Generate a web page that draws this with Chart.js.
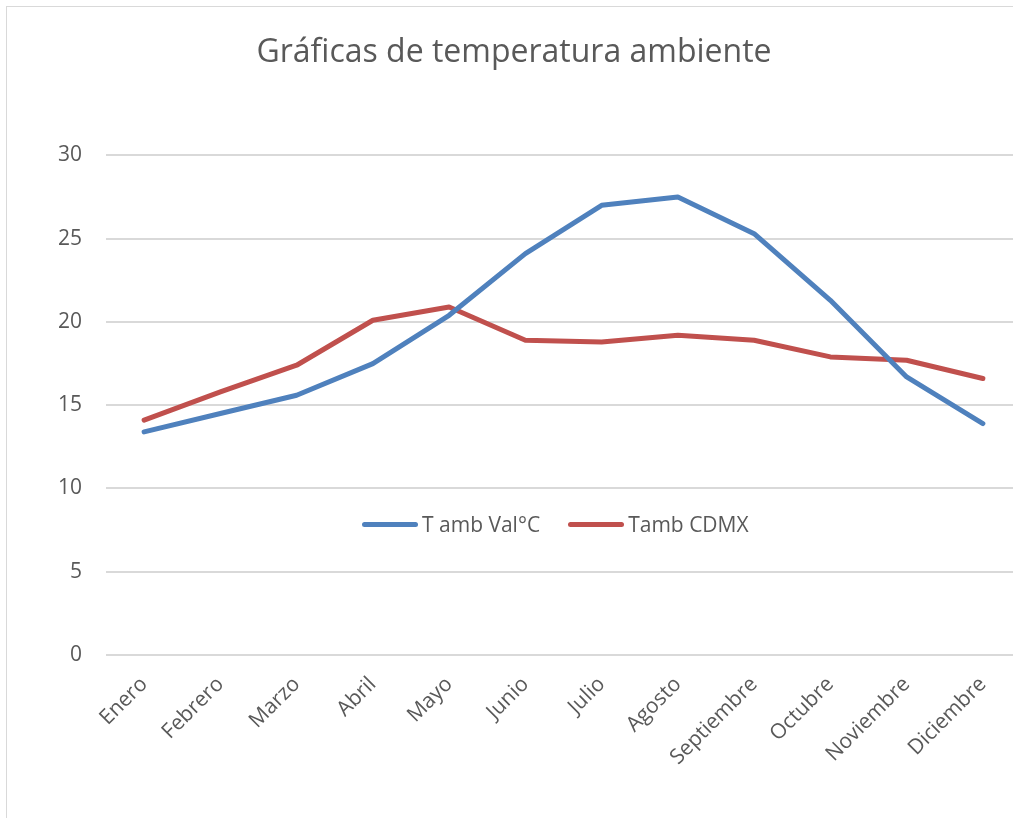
<!DOCTYPE html>
<html>
<head>
<meta charset="utf-8">
<script src="https://cdn.jsdelivr.net/npm/chart.js@4.4.0/dist/chart.umd.min.js"></script>
<style>
  html, body { margin: 0; padding: 0; background: #fff; overflow: hidden; width: 1013px; height: 818px; }
  #wrap {
    position: absolute; left: 6px; top: 6px; width: 1016px; height: 830px;
    border: 1.5px solid #D9D9D9; box-sizing: border-box; background: #fff;
  }
  #chart-box { position: absolute; left: 0; top: 0; width: 1015px; height: 812px; }
  #legend {
    position: absolute; left: 355px; top: 503px; display: flex; align-items: center;
    font-family: "Open Sans", sans-serif; font-size: 21px; color: #595959;
  }
  .leg-item { display: flex; align-items: center; margin-right: 28px; }
  .leg-line { flex: 0 0 56px; width: 56px; height: 5px; border-radius: 3px; margin-right: 4px; }
</style>
</head>
<body>
<div id="wrap">
  <div id="chart-box"><canvas id="myChart"></canvas></div>
  <div id="legend"></div>
</div>
<script>
// months on the x axis
const months = ["Enero", "Febrero", "Marzo", "Abril", "Mayo", "Junio",
                "Julio", "Agosto", "Septiembre", "Octubre", "Noviembre", "Diciembre"];

// series values
const tambValencia = [13.4, 14.5, 15.6, 17.5, 20.4, 24.1, 27.0, 27.5, 25.3, 21.3, 16.7, 13.9];
const tambCdmx = [14.1, 15.8, 17.4, 20.1, 20.9, 18.9, 18.8, 19.2, 18.9, 17.9, 17.7, 16.6];

// y axis ticks
const yMin = 0;
const yMax = 30;
const yStep = 5;

const textGray = '#595959';
const gridGray = '#D9D9D9';

const ctx = document.getElementById('myChart').getContext('2d');

const chart = new Chart(ctx, {
    type: 'line',
    data: {
        labels: months,
        datasets: [
            {
                label: 'T amb Val°C',
                data: tambValencia,
                borderColor: '#4F81BD',
                backgroundColor: '#4F81BD',
                borderWidth: 5,
                pointRadius: 0,
                tension: 0,
                borderCapStyle: 'round',
                borderJoinStyle: 'round'
            },
            {
                label: 'Tamb CDMX',
                data: tambCdmx,
                borderColor: '#C0504D',
                backgroundColor: '#C0504D',
                borderWidth: 5,
                pointRadius: 0,
                tension: 0,
                borderCapStyle: 'round',
                borderJoinStyle: 'round'
            }
        ]
    },
    options: {
        responsive: true,
        maintainAspectRatio: false,
        animation: false,
        layout: { padding: { left: 0, right: 1, top: 0, bottom: 0 } },
        plugins: {
            legend: { display: false }, // legend is drawn as html inside the plot
            tooltip: { enabled: false },
            title: {
                display: true,
                text: 'Gráficas de temperatura ambiente',
                color: textGray,
                font: { family: '"Open Sans", sans-serif', size: 32, weight: 'normal' },
                padding: { top: 27, bottom: 83 }
            }
        },
        scales: {
            x: {
                offset: true,
                grid: { display: false, drawTicks: false },
                border: { display: false },
                ticks: {
                    color: textGray,
                    font: { family: '"Open Sans", sans-serif', size: 21 },
                    maxRotation: 45,
                    minRotation: 45,
                    autoSkip: false,
                    padding: 17
                },
                afterFit: scale => { scale.height = 164; }
            },
            y: {
                min: yMin,
                max: yMax,
                grid: { color: gridGray, lineWidth: 2, drawTicks: false },
                border: { display: false },
                ticks: {
                    stepSize: yStep,
                    color: textGray,
                    font: { family: '"Open Sans", sans-serif', size: 21 },
                    padding: 24
                },
                afterFit: scale => { scale.width = 99; }
            }
        }
    }
});

// Build the legend from the chart datasets
const legendBox = document.getElementById('legend');
chart.data.datasets.forEach(ds => {
    const item = document.createElement('div');
    item.className = 'leg-item';
    const line = document.createElement('span');
    line.className = 'leg-line';
    line.style.background = ds.borderColor;
    const label = document.createElement('span');
    label.textContent = ds.label;
    item.appendChild(line);
    item.appendChild(label);
    legendBox.appendChild(item);
});
</script>
</body>
</html>
